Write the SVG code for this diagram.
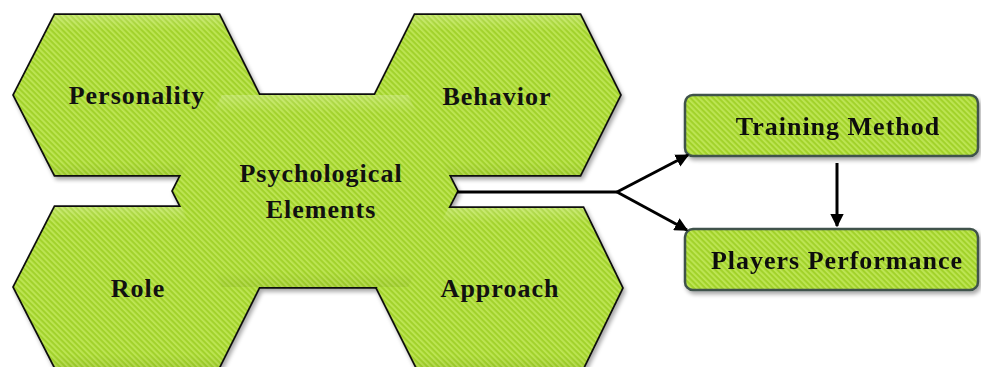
<svg xmlns="http://www.w3.org/2000/svg" width="981" height="367" viewBox="0 0 981 367">
<style>
.lbl{font-family:"Liberation Serif","Times New Roman",serif;font-weight:bold;font-size:26px;letter-spacing:1px;fill:#111;text-anchor:middle}
.hexfill{fill:url(#stripes)}
.bevel{fill:url(#bev)}
.outline{fill:#000;stroke:#111;stroke-width:3.5;stroke-linejoin:miter}
.box{fill:url(#stripes);stroke:#3f524c;stroke-width:2.5}
.conn{fill:none;stroke:#000;stroke-width:3}
</style>
<defs>
<pattern id="stripes" width="4" height="4" patternUnits="userSpaceOnUse" patternTransform="rotate(-45)">
<rect width="4" height="4" fill="#a2d22c"/>
<rect width="1.8" height="4" fill="#bfe656"/>
</pattern>
<linearGradient id="bev" x1="0" y1="0" x2="0" y2="1">
<stop offset="0" stop-color="#fff" stop-opacity="0.22"/>
<stop offset="0.06" stop-color="#fff" stop-opacity="0.08"/>
<stop offset="0.1" stop-color="#fff" stop-opacity="0"/>
<stop offset="0.92" stop-color="#000" stop-opacity="0"/>
<stop offset="1" stop-color="#000" stop-opacity="0.06"/>
</linearGradient>
<filter id="shadow" x="-5%" y="-5%" width="115%" height="120%">
<feGaussianBlur in="SourceAlpha" stdDeviation="2"/>
<feOffset dx="2" dy="3" result="b"/>
<feComponentTransfer><feFuncA type="linear" slope="0.35"/></feComponentTransfer>
<feMerge><feMergeNode/><feMergeNode in="SourceGraphic"/></feMerge>
</filter>
<marker id="arr" viewBox="0 0 10 10" refX="9" refY="5" markerWidth="4.5" markerHeight="4.5" markerUnits="strokeWidth" orient="auto">
<path d="M0,0 L10,5 L0,10 z" fill="#000"/>
</marker>
<polygon id="hPers" points="14,95 55,15 219,15 259,95 219,175 55,175"/>
<polygon id="hBeh" points="375,95 415,15 580,15 620,95 580,175 415,175"/>
<polygon id="hRole" points="14,287 55,207 219,207 259,287 219,367 55,367"/>
<polygon id="hAppr" points="377,288 417,208 583,208 622,288 583,368 417,368"/>
<polygon id="hCen" points="173,191 222,95 408,95 457,191 408,287 222,287"/>
</defs>

<g id="outlines" filter="url(#shadow)">
<use href="#hPers" class="outline"/>
<use href="#hBeh" class="outline"/>
<use href="#hRole" class="outline"/>
<use href="#hAppr" class="outline"/>
<use href="#hCen" class="outline"/>
</g>

<g id="personality">
<use href="#hPers" class="hexfill"/>
<use href="#hPers" class="bevel"/>
<text class="lbl" x="137" y="104">Personality</text>
</g>
<g id="behavior">
<use href="#hBeh" class="hexfill"/>
<use href="#hBeh" class="bevel"/>
<text class="lbl" x="497" y="105">Behavior</text>
</g>
<g id="role">
<use href="#hRole" class="hexfill"/>
<use href="#hRole" class="bevel"/>
<text class="lbl" x="138" y="297">Role</text>
</g>
<g id="approach">
<use href="#hAppr" class="hexfill"/>
<use href="#hAppr" class="bevel"/>
<text class="lbl" x="500" y="297">Approach</text>
</g>
<g id="psychological">
<use href="#hCen" class="hexfill"/>
<use href="#hCen" class="bevel"/>
<text class="lbl" x="321" y="182">Psychological</text>
<text class="lbl" x="321" y="218">Elements</text>
</g>

<g id="training" filter="url(#shadow)">
<rect class="box" x="685" y="95" width="293" height="61" rx="8"/>
<text class="lbl" x="838" y="135">Training Method</text>
</g>
<g id="players" filter="url(#shadow)">
<rect class="box" x="685" y="229" width="293" height="61" rx="8"/>
<text class="lbl" x="837" y="269">Players Performance</text>
</g>

<g id="connectors">
<polyline class="conn" points="457,192 617,192"/>
<line class="conn" x1="617" y1="192" x2="688" y2="155" marker-end="url(#arr)"/>
<line class="conn" x1="617" y1="192" x2="687" y2="230" marker-end="url(#arr)"/>
<line class="conn" x1="837" y1="163" x2="837" y2="226" marker-end="url(#arr)"/>
</g>
</svg>
